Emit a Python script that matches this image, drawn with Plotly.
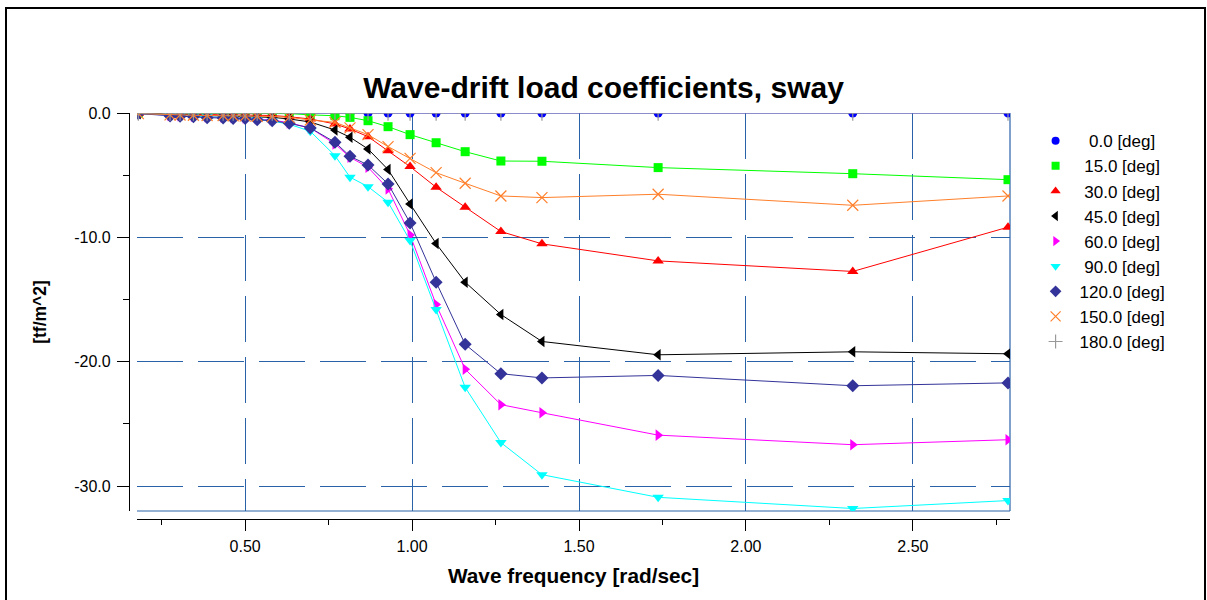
import plotly.graph_objects as go

# ---------------- data ----------------
freq = [0.180, 0.275, 0.305, 0.345, 0.386, 0.434, 0.464, 0.500, 0.536, 0.581, 0.632, 0.695,
        0.769, 0.814, 0.868, 0.928, 0.994, 1.072, 1.159, 1.266, 1.389, 1.737, 2.320, 2.785]

headings = [0.0, 15.0, 30.0, 45.0, 60.0, 90.0, 120.0, 150.0, 180.0]

h000 = [0.0, 0.0, 0.0, 0.0, 0.0, 0.0, 0.0, 0.0, 0.0, 0.0, 0.0, 0.0,
        0.0, 0.0, 0.0, 0.0, 0.0, 0.0, 0.0, 0.0, 0.0, 0.0, 0.0, 0.0]
h015 = [0.0, 0.0, 0.0, 0.0, 0.0, 0.0, 0.0, 0.0, -0.01, -0.02, -0.05, -0.15,
        -0.22, -0.35, -0.62, -1.10, -1.74, -2.39, -3.11, -3.86, -3.88, -4.39, -4.88, -5.36]
h030 = [-0.05, -0.10, -0.10, -0.12, -0.12, -0.14, -0.15, -0.16, -0.18, -0.20, -0.30, -0.48,
        -0.88, -1.29, -1.90, -3.03, -4.31, -5.97, -7.57, -9.53, -10.52, -11.89, -12.74, -9.18]
h045 = [-0.05, -0.12, -0.14, -0.16, -0.18, -0.20, -0.22, -0.25, -0.28, -0.35, -0.48, -0.72,
        -1.37, -1.95, -2.89, -4.55, -7.31, -10.50, -13.60, -16.20, -18.37, -19.44, -19.20, -19.36]
h060 = [-0.05, -0.20, -0.22, -0.25, -0.30, -0.33, -0.36, -0.40, -0.45, -0.55, -0.80, -1.20,
        -2.49, -3.56, -4.36, -6.10, -9.80, -15.40, -20.60, -23.45, -24.10, -25.90, -26.67, -26.27]
h090 = [-0.05, -0.20, -0.22, -0.26, -0.30, -0.34, -0.38, -0.42, -0.50, -0.65, -0.90, -1.47,
        -3.43, -5.16, -5.92, -7.17, -10.26, -15.80, -22.06, -26.50, -29.08, -30.90, -31.80, -31.16]
h120 = [-0.05, -0.25, -0.27, -0.30, -0.38, -0.40, -0.45, -0.45, -0.55, -0.62, -0.83, -1.20,
        -2.35, -3.48, -4.18, -5.70, -8.84, -13.60, -18.60, -20.96, -21.30, -21.10, -21.93, -21.70]
h150 = [-0.05, -0.15, -0.16, -0.18, -0.20, -0.20, -0.22, -0.24, -0.26, -0.28, -0.35, -0.56,
        -0.75, -1.20, -1.74, -2.70, -3.65, -4.80, -5.65, -6.67, -6.80, -6.53, -7.42, -6.67]
h180 = [0.0, 0.0, 0.0, 0.0, 0.0, 0.0, 0.0, 0.0, 0.0, 0.0, 0.0, 0.0,
        0.0, 0.0, 0.0, 0.0, 0.0, 0.0, 0.0, 0.0, 0.0, 0.0, 0.0, 0.0]

series = [h000, h015, h030, h045, h060, h090, h120, h150, h180]

x_ticks = [0.5, 1.0, 1.5, 2.0, 2.5]
x_minor = [0.25, 0.75, 1.25, 1.75, 2.25, 2.75]
y_ticks = [0.0, -10.0, -20.0, -30.0]
y_minor = [-5.0, -15.0, -25.0]
x_range = [0.176, 2.791]
y_range = [-32.0, 0.0]

# ---------------- styles ----------------
colors = ["#0000FF", "#00FF00", "#FF0000", "#000000", "#FF00FF", "#00FFFF",
          "#333399", "#FF7F2A", "#999999"]
symbols = ["circle", "square", "triangle-up", "triangle-left", "triangle-right",
           "triangle-down", "diamond", "x-thin-open", "cross-thin-open"]
sizes = [9, 9, 10, 10, 10, 10, 10, 11, 11]

FONT = "Liberation Sans, Arial, Helvetica, sans-serif"
GRID = "#2a62a8"

fig = go.Figure()
widest = max(len(f"{h:.1f}") for h in headings)
for h, ys, c, s, sz in zip(headings, series, colors, symbols, sizes):
    label = f"{h:.1f}"
    pad = "\u00a0" * (widest - len(label))
    open_sym = s.endswith("-open")
    mline = dict(color=c, width=1.2 if open_sym else 0)
    # data trace (lines + markers), hidden from legend
    fig.add_trace(go.Scatter(
        x=freq, y=ys, mode="lines+markers", showlegend=False,
        name=f"{label} [deg]",
        line=dict(color=c, width=1),
        marker=dict(symbol=s, size=sz, color=c, line=mline),
    ))
    # legend entry showing the marker symbol only
    fig.add_trace(go.Scatter(
        x=[None], y=[None], mode="markers", name=f"{pad}{label} [deg]",
        marker=dict(symbol=s, size=sz - 1, color=c, line=mline),
        hoverinfo="skip",
    ))

fig.update_layout(
    width=1207, height=600,
    paper_bgcolor="white", plot_bgcolor="white",
    margin=dict(l=129, r=197, t=113, b=81),
    font=dict(family=FONT, size=16, color="black"),
    title=dict(text="<b>Wave-drift load coefficients, sway</b>",
               x=0.5, xref="container", xanchor="center",
               y=0.855, yref="container", yanchor="middle",
               font=dict(family=FONT, size=30, color="black")),
    legend=dict(x=1.0245, y=0.975, xanchor="left", yanchor="top",
                font=dict(family=FONT, size=17, color="black"),
                bgcolor="rgba(0,0,0,0)", borderwidth=0, itemwidth=38),
    showlegend=True,
)

fig.update_xaxes(
    domain=[8 / 881, 1.0], anchor="free", position=0.0,
    range=x_range, showline=True, linecolor="black", linewidth=1.2,
    tickvals=x_ticks, ticktext=[f"{v:.2f}" for v in x_ticks],
    ticks="outside", ticklen=11, tickwidth=1.2, tickcolor="black",
    ticklabelstandoff=2,
    tickfont=dict(family=FONT, size=16, color="black"),
    showgrid=True, gridcolor=GRID, gridwidth=1, griddash="46px,15px",
    zeroline=False,
    minor=dict(tickvals=x_minor, ticks="outside", ticklen=5, tickwidth=1.2,
               tickcolor="black", showgrid=False),
    title=dict(text="<b>Wave frequency [rad/sec]</b>", standoff=14,
               font=dict(family=FONT, size=20.8, color="black")),
)
fig.update_yaxes(
    domain=[8 / 406, 1.0], anchor="free", position=0.0,
    range=y_range, showline=True, linecolor="black", linewidth=1.2,
    tickvals=y_ticks, ticktext=[f"{v:.1f}" for v in y_ticks],
    ticks="outside", ticklen=12, tickwidth=1.2, tickcolor="black",
    ticklabelstandoff=3,
    tickfont=dict(family=FONT, size=16, color="black"),
    showgrid=True, gridcolor=GRID, gridwidth=1, griddash="46px,15px",
    zeroline=False,
    minor=dict(tickvals=y_minor, ticks="outside", ticklen=6, tickwidth=1.2,
               tickcolor="black", showgrid=False),
    title=dict(text="<b>[tf/m^2]</b>", standoff=22,
               font=dict(family=FONT, size=17.5, color="black")),
)

# plot frame (bottom and right solid blue edges)
fig.add_shape(type="line", xref="x domain", yref="y domain", x0=0, x1=1, y0=0, y1=0,
              line=dict(color=GRID, width=1.2), layer="below")
fig.add_shape(type="line", xref="x domain", yref="y domain", x0=1, x1=1, y0=0, y1=1,
              line=dict(color=GRID, width=1.2), layer="below")
# outer black border of the picture
fig.add_shape(type="rect", xref="paper", yref="paper",
              x0=(6 - 129) / 881, x1=(1205 - 129) / 881,
              y0=(519 - 606) / 406, y1=(519 - 8) / 406,
              line=dict(color="black", width=2), fillcolor="rgba(0,0,0,0)")

fig.write_html("out.html",
               config={"displayModeBar": False},
               post_script="document.body.style.margin='0px';"
                           "document.body.style.overflow='hidden';")
